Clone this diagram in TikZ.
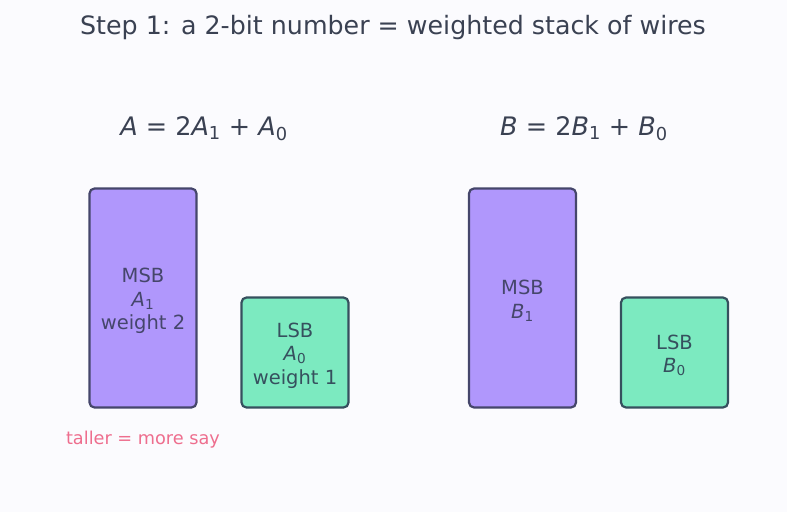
\documentclass[tikz,border=0pt]{standalone}
\usepackage{amsmath}
\usepackage{fontspec}
\setmainfont{DejaVu Sans}
\usepackage{tikz}

\definecolor{bgcol}{HTML}{FBFBFE}
\definecolor{inkcol}{HTML}{3A4152}
\definecolor{msbfill}{HTML}{B097FC}
\definecolor{msbedge}{HTML}{45466B}
\definecolor{lsbfill}{HTML}{7CEAC0}
\definecolor{lsbedge}{HTML}{36505E}
\definecolor{notecol}{HTML}{EE6E8E}

% italic letter with a lowered subscript
\newcommand{\bitvar}[2]{$\text{\itshape #1}_{\text{#2}}$}

\begin{document}
\begin{tikzpicture}[x=1pt, y=-1pt,
    wirebox/.style={draw, rounded corners=5pt, line width=2.2pt, minimum width=107pt},
    msbbox/.style={wirebox, fill=msbfill, draw=msbedge, minimum height=219pt},
    lsbbox/.style={wirebox, fill=lsbfill, draw=lsbedge, minimum height=110pt},
    wiretext/.style={align=center, font=\fontsize{19.5}{23.5}\selectfont, yshift=-3pt}]
                                    % 背景与边界
                                    \fill[bgcol] (0,0) rectangle (787,512);
                                    \useasboundingbox (0,0) rectangle (787,512);

                                    % 标题
                                    \node[text=inkcol, font=\fontsize{25.3}{28}\selectfont] (title) at (393,27.5) {Step 1: a 2-bit number = weighted stack of wires};

                                    % 两个等式
                                    \node[text=inkcol, font=\fontsize{25.5}{28}\selectfont] (eqA) at (204,128.5) {{\itshape A} = 2\bitvar{A}{1} + \bitvar{A}{0}};
                                    \node[text=inkcol, font=\fontsize{25.5}{28}\selectfont] (eqB) at (584,128.5) {{\itshape B} = 2\bitvar{B}{1} + \bitvar{B}{0}};

                                    % A 的两根线
                                    \node[msbbox] (msbA) at (143,298) {};
                                    \node[lsbbox] (lsbA) at (295,352.5) {};
                                    \node[wiretext, text=msbedge] (msbAtext) at (msbA) {MSB\\\bitvar{A}{1}\\weight 2};
                                    \node[wiretext, text=lsbedge] (lsbAtext) at (lsbA) {LSB\\\bitvar{A}{0}\\weight 1};

                                    % B 的两根线
                                    \node[msbbox] (msbB) at (522.5,298) {};
                                    \node[lsbbox] (lsbB) at (674.5,352.5) {};
                                    \node[wiretext, text=msbedge] (msbBtext) at (msbB) {MSB\\\bitvar{B}{1}};
                                    \node[wiretext, text=lsbedge] (lsbBtext) at (lsbB) {LSB\\\bitvar{B}{0}};

                                    % 注释
                                    \node[text=notecol, font=\fontsize{17.7}{20}\selectfont] (note) at (143,440) {taller = more say};
\end{tikzpicture}
\end{document}
